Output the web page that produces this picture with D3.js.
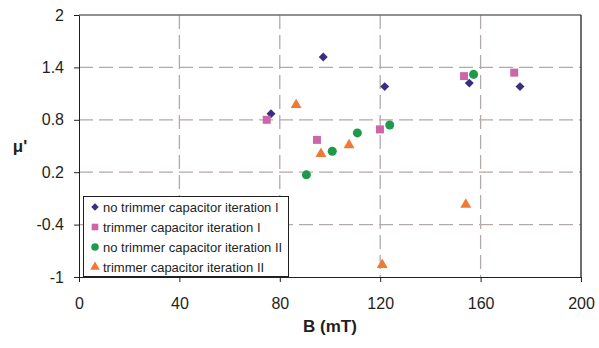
<!DOCTYPE html>
<meta charset="utf-8">
<style>
body { margin: 0; background: #fff; }
svg text { font-family: "Liberation Sans", Arial, sans-serif; fill: #231f20; }
.axis text { font-size: 16px; }
.axis path, .axis line { stroke: #231f20; }
.grid line { stroke: #b3a9a7; stroke-dasharray: 14,6; stroke-width: 1.3px; }
.legend text { font-size: 13px; }
</style>
<body>
<svg width="599" height="348"></svg>
<script src="https://cdn.jsdelivr.net/npm/d3@7"></script>
<script>

// series: [B (mT), mu']
var noTrimI = [[76.5,0.87],[97.3,1.52],[121.8,1.18],[155.5,1.22],[175.7,1.18]];
var trimI   = [[74.8,0.80],[94.8,0.57],[119.9,0.69],[153.4,1.30],[173.4,1.34]];
var noTrimII = [[90.6,0.17],[100.9,0.44],[110.9,0.65],[123.8,0.74],[157.2,1.32]];
var trimII  = [[86.5,0.97],[96.4,0.41],[107.6,0.51],[154.1,-0.17],[120.8,-0.86]];

var xTicks = [0,40,80,120,160,200];
var yTicks = [-1,-0.4,0.2,0.8,1.4,2];

// diamond = square turned 45 degrees
var series = [
  {name:"no trimmer capacitor iteration I", data:noTrimI, symbol:d3.symbolSquare, rot:45, color:"#3a2e80", size:40, lsize:28},
  {name:"trimmer capacitor iteration I", data:trimI, symbol:d3.symbolSquare, rot:0, color:"#cc66aa", size:64, lsize:44},
  {name:"no trimmer capacitor iteration II", data:noTrimII, symbol:d3.symbolCircle, rot:0, color:"#1f9a4b", size:64, lsize:44},
  {name:"trimmer capacitor iteration II", data:trimII, symbol:d3.symbolTriangle, rot:0, color:"#f07a33", size:52, lsize:40}
];

var svg = d3.select("svg");
var x = d3.scaleLinear().domain([0,200]).range([79,581]);
var y = d3.scaleLinear().domain([-1,2]).range([277,15]);

// grid
var grid = svg.append("g").attr("class","grid");
grid.selectAll(".vx").data(xTicks.slice(1,-1)).enter().append("line")
  .attr("x1",x).attr("x2",x).attr("y1",y(2)).attr("y2",y(-1));
grid.selectAll(".hy").data(yTicks.slice(1,-1)).enter().append("line")
  .attr("y1",y).attr("y2",y).attr("x1",x(0)).attr("x2",x(200));

// frame top and right
svg.append("line").attr("x1",x(0)).attr("x2",x(200)).attr("y1",y(2)).attr("y2",y(2))
  .attr("stroke","#6e6a6a").attr("stroke-width",1.5);
svg.append("line").attr("x1",x(200)).attr("x2",x(200)).attr("y1",y(2)).attr("y2",y(-1))
  .attr("stroke","#231f20").attr("stroke-width",1.3);

// axes
svg.append("g").attr("class","axis").attr("transform","translate(0,"+y(-1)+")")
  .call(d3.axisBottom(x).tickValues(xTicks).tickSize(5).tickPadding(16).tickSizeOuter(0));
svg.append("g").attr("class","axis").attr("transform","translate("+x(0)+",0)")
  .call(d3.axisLeft(y).tickValues(yTicks).tickSize(5).tickPadding(10).tickSizeOuter(0)
    .tickFormat(function(d){ return String(+d.toFixed(1)); }));

// points
series.forEach(function(s){
  svg.append("g").selectAll("path").data(s.data).enter().append("path")
    .attr("d", d3.symbol().type(s.symbol).size(s.size))
    .attr("transform", function(d){ return "translate("+x(d[0])+","+y(d[1])+") rotate("+s.rot+")"; })
    .attr("fill", s.color);
});

// legend
var lg = svg.append("g").attr("class","legend");
lg.append("rect").attr("x",83.5).attr("y",196.5).attr("width",205).attr("height",80)
  .attr("fill","#fff").attr("stroke","#231f20");
series.forEach(function(s,i){
  var ly = 207 + i*20;
  lg.append("path").attr("d", d3.symbol().type(s.symbol).size(s.lsize))
    .attr("transform","translate(95,"+ly+") rotate("+s.rot+")").attr("fill",s.color);
  lg.append("text").attr("x",103).attr("y",ly+4.5).text(s.name);
});

// titles
svg.append("text").attr("x",330).attr("y",332).attr("text-anchor","middle")
  .style("font-size","17px").style("font-weight","bold").text("B (mT)");
svg.append("text").attr("x",20).attr("y",152).attr("text-anchor","middle")
  .style("font-size","17px").style("font-weight","bold").text("μ'");

</script>
</body>
